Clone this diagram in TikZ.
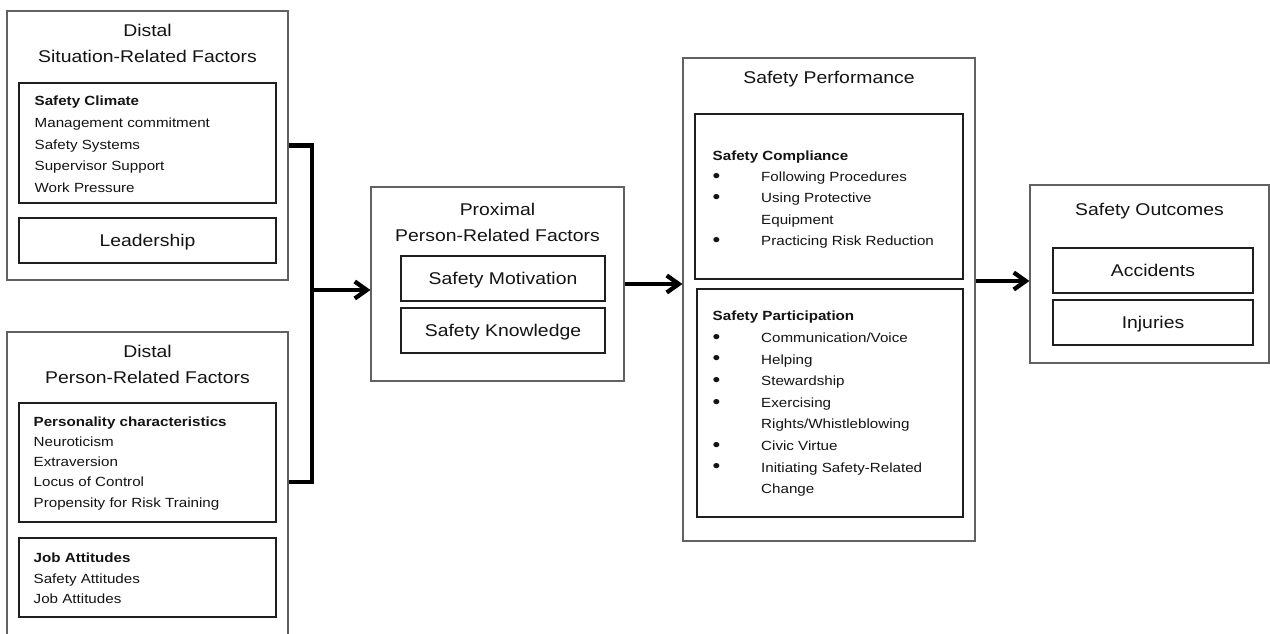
\documentclass[tikz,border=0pt]{standalone}
\usepackage{fontspec}
\setmainfont{Liberation Sans}[FakeStretch=1.14]
\usetikzlibrary{arrows.meta}

\tikzset{
  outerbox/.style={draw=black!62, line width=1.1pt, minimum width=#1},
  innerbox/.style={draw=black!88, line width=1.6pt, minimum width=#1, inner sep=0pt},
  boxlabel/.style={text height=12pt, text depth=0pt,
    font=\fontsize{17}{26}\selectfont},
  heading/.style={anchor=north, inner sep=0pt, align=center,
    font=\fontsize{17}{26}\selectfont},
  bodytext/.style={anchor=north west, inner sep=0pt, align=left,
    font=\fontsize{13.3}{#1}\selectfont},
  conn/.style={line width=4.3pt, black},
  arrowtip/.style={-{Straight Barb[length=12pt,width=17pt]}},
}
% list marker: an enlarged bullet in a fixed-width slot
\newcommand{\itembullet}{\makebox[48.5pt][l]{\raisebox{-0.9pt}{\scalebox{1.45}{\textbullet}}}}

\begin{document}
\begin{tikzpicture}[x=1pt, y=-1pt, text=black!92]
  \useasboundingbox (0,0) rectangle (1270,633);
  \fill[white] (0,0) rectangle (1270,633);
  \clip (0,0) rectangle (1270,633);

  % distal situation-related factors
  \node[outerbox=281, minimum height=269] (dsf) at (147.5,145.5) {};
  \node[heading] (dsft) at (147.5,24) {Distal\\Situation-Related Factors};
  \node[innerbox=257, minimum height=120] (scbox) at (147.5,143) {};
  \node[bodytext=21.7] (sctext) at (34.5,96)
    {\textbf{Safety Climate}\\Management commitment\\Safety Systems\\Supervisor Support\\Work Pressure};
  \node[innerbox=257, minimum height=45, boxlabel] (lead) at (147.5,240.5) {Leadership};

  % distal person-related factors (runs past the lower edge)
  \node[outerbox=281, minimum height=320] (dpf) at (147.5,492) {};
  \node[heading] (dpft) at (147.5,345) {Distal\\Person-Related Factors};
  \node[innerbox=257, minimum height=119] (pcbox) at (147.5,462.5) {};
  \node[bodytext=20.2] (pctext) at (33.5,416.5)
    {\textbf{Personality characteristics}\\Neuroticism\\Extraversion\\Locus of Control\\Propensity for Risk Training};
  \node[innerbox=257, minimum height=79] (jabox) at (147.5,577.5) {};
  \node[bodytext=20.3] (jatext) at (33.5,553)
    {\textbf{Job Attitudes}\\Safety Attitudes\\Job Attitudes};

  % proximal person-related factors
  \node[outerbox=253, minimum height=194] (prox) at (497.5,284) {};
  \node[heading] (proxt) at (497.5,202.7) {Proximal\\Person-Related Factors};
  \node[innerbox=204, minimum height=45, boxlabel] (smot) at (503,278.5) {Safety Motivation};
  \node[innerbox=204, minimum height=45, boxlabel] (sknow) at (503,330.5) {Safety Knowledge};

  % safety performance
  \node[outerbox=292, minimum height=483] (perf) at (829,299.5) {};
  \node[heading] (perft) at (829,70.7) {Safety Performance};
  \node[innerbox=268, minimum height=165] (comp) at (829,196.5) {};
  \node[bodytext=21.25] (comptext) at (712.5,150.5)
    {\textbf{Safety Compliance}\\
     \itembullet Following Procedures\\
     \itembullet Using Protective\\
     \hspace*{48.5pt}Equipment\\
     \itembullet Practicing Risk Reduction};
  \node[innerbox=266, minimum height=228] (part) at (830,403) {};
  \node[bodytext=21.6] (parttext) at (712.5,311)
    {\textbf{Safety Participation}\\
     \itembullet Communication/Voice\\
     \itembullet Helping\\
     \itembullet Stewardship\\
     \itembullet Exercising\\
     \hspace*{48.5pt}Rights/Whistleblowing\\
     \itembullet Civic Virtue\\
     \itembullet Initiating Safety-Related\\
     \hspace*{48.5pt}Change};

  % safety outcomes
  \node[outerbox=239, minimum height=178] (outc) at (1149.5,274) {};
  \node[heading] (outct) at (1149.5,203) {Safety Outcomes};
  \node[innerbox=200, minimum height=45, boxlabel] (acc) at (1153,270.5) {Accidents};
  \node[innerbox=200, minimum height=45, boxlabel] (inj) at (1153,322.5) {Injuries};

  % connectors
  \coordinate (jn) at (312,290);
  \coordinate (lowrow) at (0,482);
  \coordinate (lvl) at (1000,281);
  \draw[conn] (dsf.east) -| (jn) |- (dpf.east |- lowrow);
  \draw[conn, arrowtip] (jn) -- (jn -| prox.west);
  \draw[conn, arrowtip] (prox.east) -- (prox.east -| perf.west);
  \draw[conn, arrowtip] (perf.east |- lvl) -- (outc.west |- lvl);
\end{tikzpicture}
\end{document}
